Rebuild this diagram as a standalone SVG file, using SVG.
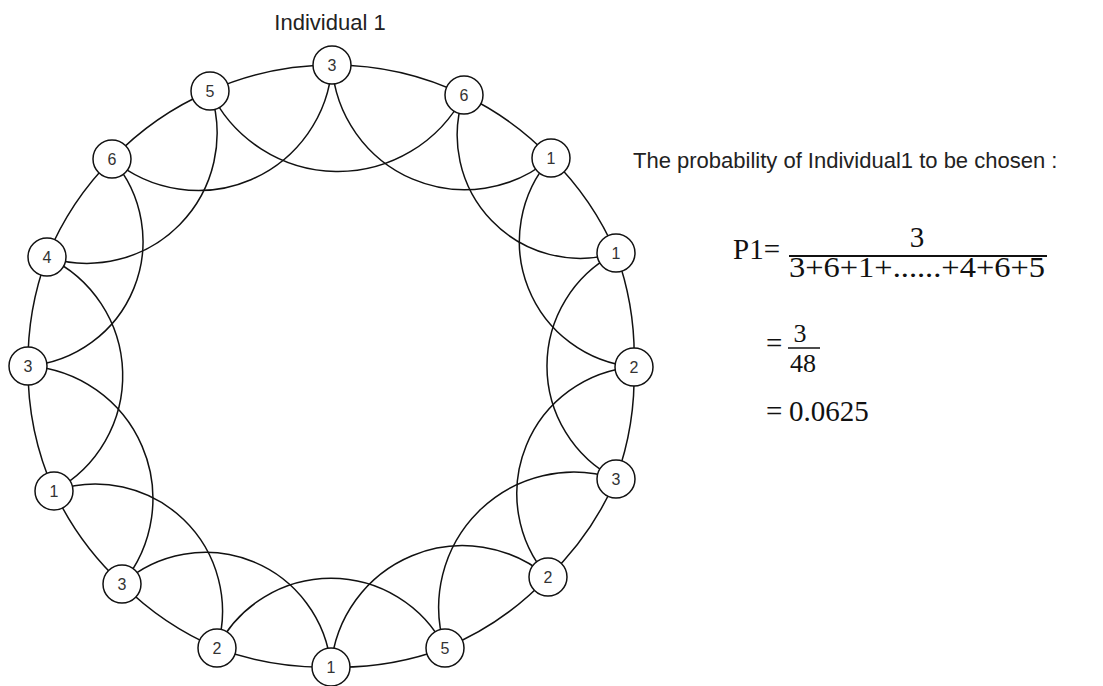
<svg xmlns="http://www.w3.org/2000/svg" width="1103" height="686" viewBox="0 0 1103 686">
<style>
.e{fill:none;stroke:#111;stroke-width:1.5}
.n circle{fill:#fff;stroke:#111;stroke-width:1.5}
.n text{font-family:"Liberation Sans",Arial,sans-serif;font-size:16px;fill:#333;text-anchor:middle}
.t{font-family:"Liberation Sans",Arial,sans-serif;font-size:22px;fill:#222}
.m{font-family:"Liberation Serif","Times New Roman",serif;font-size:29px;fill:#111}
.f{font-family:"Liberation Serif","Times New Roman",serif;font-size:26px;fill:#111;text-anchor:middle}
</style>
<rect width="1103" height="686" fill="#fff"/>
<g id="connectors">
<path class="e" d="M332 65 A300 300 0 0 1 464 95"/>
<path class="e" d="M464 95 A300 300 0 0 1 551 158"/>
<path class="e" d="M551 158 A300 300 0 0 1 616 253"/>
<path class="e" d="M616 253 A300 300 0 0 1 634 367"/>
<path class="e" d="M634 367 A300 300 0 0 1 616 479"/>
<path class="e" d="M616 479 A300 300 0 0 1 548 577"/>
<path class="e" d="M548 577 A300 300 0 0 1 445 648"/>
<path class="e" d="M445 648 A300 300 0 0 1 331 667"/>
<path class="e" d="M331 667 A300 300 0 0 1 217 648"/>
<path class="e" d="M217 648 A300 300 0 0 1 122 584"/>
<path class="e" d="M122 584 A300 300 0 0 1 54 491"/>
<path class="e" d="M54 491 A300 300 0 0 1 28 366"/>
<path class="e" d="M28 366 A300 300 0 0 1 47 257"/>
<path class="e" d="M47 257 A300 300 0 0 1 112 159"/>
<path class="e" d="M112 159 A300 300 0 0 1 210 91"/>
<path class="e" d="M210 91 A300 300 0 0 1 332 65"/>
<path class="e" d="M332 65 A133 133 0 0 0 551 158"/>
<path class="e" d="M464 95 A123 123 0 0 0 616 253"/>
<path class="e" d="M551 158 A126 126 0 0 0 634 367"/>
<path class="e" d="M616 253 A127 127 0 0 0 616 479"/>
<path class="e" d="M634 367 A127 127 0 0 0 548 577"/>
<path class="e" d="M616 479 A135 135 0 0 0 445 648"/>
<path class="e" d="M548 577 A132 132 0 0 0 331 667"/>
<path class="e" d="M445 648 A128 128 0 0 0 217 648"/>
<path class="e" d="M331 667 A126 126 0 0 0 122 584"/>
<path class="e" d="M217 648 A127 127 0 0 0 54 491"/>
<path class="e" d="M122 584 A133 133 0 0 0 28 366"/>
<path class="e" d="M54 491 A131 131 0 0 0 47 257"/>
<path class="e" d="M28 366 A125 125 0 0 0 112 159"/>
<path class="e" d="M47 257 A130 130 0 0 0 210 91"/>
<path class="e" d="M112 159 A134 134 0 0 0 332 65"/>
<path class="e" d="M210 91 A142 142 0 0 0 464 95"/>
</g>
<g id="n0" class="n"><circle cx="332" cy="65" r="19"/><text x="332" y="71">3</text></g>
<g id="n1" class="n"><circle cx="464" cy="95" r="19"/><text x="464" y="101">6</text></g>
<g id="n2" class="n"><circle cx="551" cy="158" r="19"/><text x="551" y="164">1</text></g>
<g id="n3" class="n"><circle cx="616" cy="253" r="19"/><text x="616" y="259">1</text></g>
<g id="n4" class="n"><circle cx="634" cy="367" r="19"/><text x="634" y="373">2</text></g>
<g id="n5" class="n"><circle cx="616" cy="479" r="19"/><text x="616" y="485">3</text></g>
<g id="n6" class="n"><circle cx="548" cy="577" r="19"/><text x="548" y="583">2</text></g>
<g id="n7" class="n"><circle cx="445" cy="648" r="19"/><text x="445" y="654">5</text></g>
<g id="n8" class="n"><circle cx="331" cy="667" r="19"/><text x="331" y="673">1</text></g>
<g id="n9" class="n"><circle cx="217" cy="648" r="19"/><text x="217" y="654">2</text></g>
<g id="n10" class="n"><circle cx="122" cy="584" r="19"/><text x="122" y="590">3</text></g>
<g id="n11" class="n"><circle cx="54" cy="491" r="19"/><text x="54" y="497">1</text></g>
<g id="n12" class="n"><circle cx="28" cy="366" r="19"/><text x="28" y="372">3</text></g>
<g id="n13" class="n"><circle cx="47" cy="257" r="19"/><text x="47" y="263">4</text></g>
<g id="n14" class="n"><circle cx="112" cy="159" r="19"/><text x="112" y="165">6</text></g>
<g id="n15" class="n"><circle cx="210" cy="91" r="19"/><text x="210" y="97">5</text></g>
<g id="title"><text class="t" x="330" y="30" text-anchor="middle">Individual 1</text></g>
<g id="formula">
<text class="t" x="633" y="168">The probability of Individual1 to be chosen :</text>
<text class="m" x="733" y="259">P1=</text>
<text class="m" x="917" y="247" text-anchor="middle">3</text>
<line x1="789" y1="256" x2="1047" y2="256" stroke="#111" stroke-width="2"/>
<text class="m" x="789" y="277" textLength="256" lengthAdjust="spacingAndGlyphs">3+6+1+......+4+6+5</text>
<text class="m" x="766" y="353">=</text>
<text class="f" x="800" y="342">3</text>
<line x1="788" y1="348" x2="820" y2="348" stroke="#111" stroke-width="1.5"/>
<text class="f" x="803" y="372">48</text>
<text class="m" x="766" y="421">=</text>
<text class="m" x="789" y="421">0.0625</text>
</g>
</svg>
